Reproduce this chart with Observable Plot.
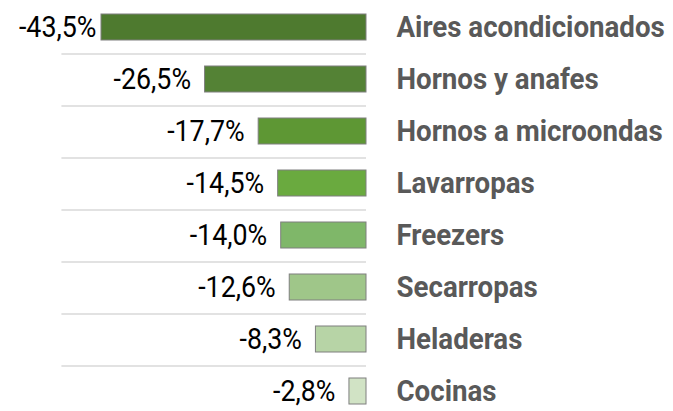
<!DOCTYPE html>
<html>
<head>
<meta charset="utf-8">
<script src="https://cdn.jsdelivr.net/npm/d3@7"></script>
<script src="https://cdn.jsdelivr.net/npm/@observablehq/plot@0.6"></script>
<style>
  html, body { margin: 0; padding: 0; background: #fff; }
  #chart svg { display: block; }
</style>
</head>
<body>
<div id="chart"></div>
<script>
const categories = ["Aires acondicionados","Hornos y anafes","Hornos a microondas","Lavarropas","Freezers","Secarropas","Heladeras","Cocinas"];
const values = [-43.5, -26.5, -17.7, -14.5, -14.0, -12.6, -8.3, -2.8];
const colors = ["#4e7a2f","#548235","#5e9734","#6aaa3f","#7fb769","#9fc689","#b7d4a6","#d1e3c5"];
const labels = values.map(v => v.toFixed(1).replace(".", ",") + "%");

const data = categories.map((c, i) => ({cat: c, value: values[i], color: colors[i], label: labels[i]}));
const separators = data.slice(0, -1);

const chart = Plot.plot({
  width: 673,
  height: 411,
  margin: 0,
  x: {domain: [-43.5, 0], range: [101, 366], axis: null},
  y: {domain: categories, range: [-2.4, 420.5], paddingInner: 0.508, paddingOuter: 0.254, axis: null},
  style: {background: "#fff"},
  marks: [
    Plot.ruleY(separators, {y: "cat", x1: -50, x2: 0, dy: 26.45, stroke: "#d9d9d9", strokeWidth: 1.5}),
    Plot.barX(data, {y: "cat", x1: "value", x2: 0, fill: "color", stroke: "#7f7f7f", strokeWidth: 1}),
    Plot.text(data.slice(0, 1), {y: "cat", x: "value", text: "label", textAnchor: "end", dx: -5, fill: "#000",
      fontFamily: "Roboto", fontSize: 29, className: "vlab"}),
    Plot.text(data.slice(1), {y: "cat", x: "value", text: "label", textAnchor: "end", dx: -14, fill: "#000",
      fontFamily: "Roboto", fontSize: 29, className: "vlab"}),
    Plot.text(data, {y: "cat", x: 0, text: "cat", textAnchor: "start", dx: 30, fill: "#595959",
      fontFamily: "Roboto", fontWeight: "bold", fontSize: 29, className: "clab"})
  ]
});
// condense glyphs horizontally (reference uses a condensed face)
function condense(sel, s) {
  chart.querySelectorAll(sel + " text").forEach(t => {
    const x = +t.getAttribute("x") || 0;
    t.setAttribute("x", x / s);
    const tr = t.getAttribute("transform") || "";
    t.setAttribute("transform", (tr + ` scale(${s},1)`).trim());
  });
}
condense(".vlab", 0.925);
condense(".clab", 0.955);
document.getElementById("chart").append(chart);
</script>
</body>
</html>
